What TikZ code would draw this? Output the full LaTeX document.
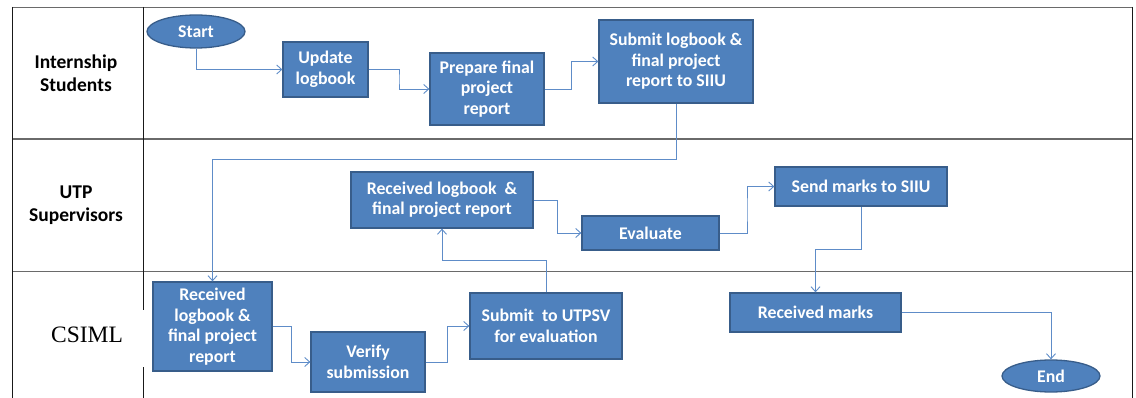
\documentclass[tikz,border=0pt]{standalone}
\usepackage{fontspec}
\setmainfont{Carlito}
\newfontfamily\serifcap{Liberation Serif}
\usetikzlibrary{calc,arrows.meta,shapes.geometric}
\definecolor{boxfill}{HTML}{4F81BD}
\definecolor{boxedge}{HTML}{385D8A}
\definecolor{flowcol}{HTML}{5E8CC8}
\definecolor{lanegray}{HTML}{6A6A6A}
\tikzset{
  box/.style={draw=boxedge, fill=boxfill, line width=1.3pt, text=white,
    font=\bfseries\fontsize{17.8}{20.5}\selectfont, align=center, inner sep=0pt},
  term/.style={box, ellipse},
  flow/.style={draw=flowcol, line width=0.9pt, -{Straight Barb[length=5pt,width=9pt]}},
  hv/.style={to path={-| ($(\tikztostart)!.5!(\tikztotarget)$) |- (\tikztotarget)}},
  vh/.style={to path={|- ($(\tikztostart)!.5!(\tikztotarget)$) -| (\tikztotarget)}},
  lanelabel/.style={font=\bfseries\fontsize{19.5}{23}\selectfont, align=center},
  hline/.style={draw=lanegray, line width=1.5pt},
  vline/.style={draw=black!90, line width=1pt}
}
\begin{document}
\begin{tikzpicture}[x=1pt,y=-1pt]
\useasboundingbox (0,0) rectangle (1136,398);

% swimlane frame
\draw[hline] (12,7.5) -- (1132,7.5);
\draw[hline] (12,139) -- (1132,139);
\draw[hline] (12,271.5) -- (1132,271.5);
\draw[vline] (12,7) -- (12,398);
\draw[vline] (1132,7) -- (1132,398);
\draw[vline] (143,7) -- (143,310);
\draw[vline] (143,367) -- (143,398);

% lane titles
\node[lanelabel] (laneA) at (76,73) {Internship\\Students};
\node[lanelabel] (laneB) at (76,205) {UTP\\Supervisors};
\node[font=\serifcap\fontsize{23.5}{26}\selectfont] (laneC) at (87,335) {CSIML};

% steps
\node[term, minimum width=98pt, minimum height=33pt] (start) at (196,31.5) {Start};
\node[box, minimum width=85pt, minimum height=55pt] (upd) at (325.5,69.5) {Update\\logbook};
\node[box, minimum width=114pt, minimum height=72pt] (prep) at (487,89) {Prepare final\\project\\report};
\node[box, minimum width=154pt, minimum height=83pt] (subm) at (676,61.5) {Submit logbook \&\\final project\\report to SIIU};
\node[box, minimum width=182pt, minimum height=56pt] (rcvA) at (442,200) {Received logbook \ \&\\final project report};
\node[box, minimum width=137pt, minimum height=34pt] (eval) at (650.5,233) {Evaluate};
\node[box, minimum width=172pt, minimum height=39pt] (send) at (861,186.5) {Send marks to SIIU};
\node[box, minimum width=119pt, minimum height=89pt] (rcvB) at (212.5,326.5) {Received\\logbook \&\\final project\\report};
\node[box, minimum width=114pt, minimum height=60pt] (verify) at (368,362) {Verify\\submission};
\node[box, minimum width=152pt, minimum height=66pt] (sutp) at (546,326) {Submit \ to UTPSV\\for evaluation};
\node[box, minimum width=171pt, minimum height=39pt] (rmarks) at (815.5,312.5) {Received marks};
\node[term, minimum width=98pt, minimum height=32pt] (finish) at (1051,376) {End};

% connectors
\coordinate (drop) at (0,159);
\draw[flow] (start.south) |- (upd.west);
\draw[flow] (upd.east) to[hv] (prep.west);
\draw[flow] (prep.east) to[hv] (subm.west);
\draw[flow] (subm.south) |- (rcvB.north |- drop) -- (rcvB.north);
\draw[flow] (rcvB.east) to[hv] (verify.west);
\draw[flow] (verify.east) to[hv] (sutp.west);
\draw[flow] (sutp.north) to[vh] (rcvA.south);
\draw[flow] (rcvA.east) to[hv] (eval.west);
\draw[flow] (eval.east) to[hv] (send.west);
\draw[flow] (send.south) to[vh] (rmarks.north);
\draw[flow] (rmarks.east) -| (finish.north);
\end{tikzpicture}
\end{document}
